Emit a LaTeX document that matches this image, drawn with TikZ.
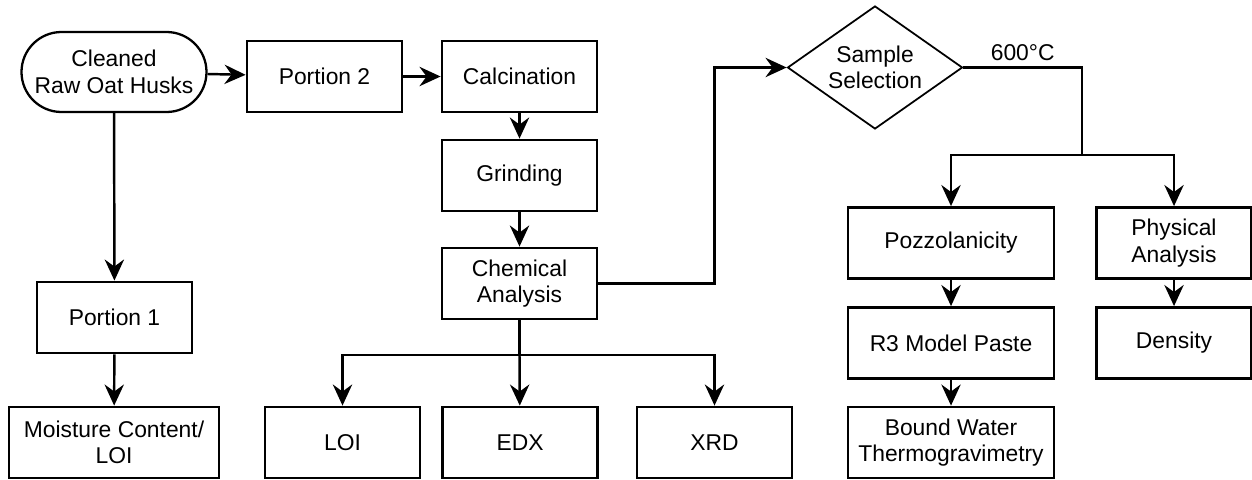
\documentclass[tikz,border=0pt]{standalone}
\usepackage{fontspec}
\setmainfont{Liberation Sans}
\usetikzlibrary{positioning, shapes.geometric, arrows.meta, calc}

\begin{document}
\begin{tikzpicture}[
    font=\fontsize{13}{15}\selectfont,
    % Styles
    box/.style={ % Process step
        rectangle,
        draw,
        line width=1.6pt,
        minimum width=3.1cm,
        minimum height=1.42cm,
        inner sep=2pt,
        align=center
    },
    widebox/.style={ % Wider process step
        box,
        minimum width=4.12cm
    },
    terminal/.style={ % Start node
        rectangle,
        rounded corners=8mm,
        draw,
        line width=1.3pt,
        minimum width=3.7cm,
        minimum height=1.6cm,
        align=center
    },
    decision/.style={ % Decision
        diamond,
        draw,
        line width=1pt,
        aspect=1.42,
        inner sep=0pt,
        minimum width=3.5cm,
        minimum height=2.46cm,
        align=center
    },
    line/.style={
        line width=1.4pt
    },
    arrow/.style={
        line,
        -{Stealth[length=12pt, width=11pt, inset=4pt]}
    }
]
    \useasboundingbox (0,0) rectangle (25.04,-9.58);

    % Raw material and first portion
    \node [terminal] (husks) at (2.28,-1.44) {Cleaned\\Raw Oat Husks};
    \node [box] (portion1) at (2.29,-6.35) {Portion 1};
    \node [box, minimum width=4.2cm] (moist) at (2.28,-8.85) {Moisture Content/\\LOI};

    % Second portion and ash preparation
    \node [box] (portion2) at (6.49,-1.53) {Portion 2};
    \node [box] (calc) at (10.39,-1.53) {Calcination};
    \node [box] (grind) at (10.39,-3.51) {Grinding};
    \node [box] (chem) at (10.39,-5.67) {Chemical\\Analysis};
    \node [box] (loi) at (6.85,-8.85) {LOI};
    \node [box] (edx) at (10.40,-8.85) {EDX};
    \node [box] (xrd) at (14.29,-8.85) {XRD};

    % Selected ash
    \node [decision] (sample) at (17.5,-1.35) {Sample\\Selection};
    \node [widebox] (pozz) at (19.02,-4.86) {Pozzolanicity};
    \node [widebox] (r3) at (19.02,-6.86) {R3 Model Paste};
    \node [widebox] (bound) at (19.02,-8.85) {Bound Water\\Thermogravimetry};
    \node [box] (phys) at (23.48,-4.86) {Physical\\Analysis};
    \node [box] (density) at (23.48,-6.86) {Density};

    % Branch points
    \coordinate (chemfork) at (10.39,-7.10);
    \coordinate (samplefork) at (21.64,-3.10);

    % Arrows
    \draw [arrow] (husks) -- (portion2);
    \draw [arrow] (portion2) -- (calc);
    \draw [arrow] (husks) -- (portion1);
    \draw [arrow] (portion1) -- (moist);
    \draw [arrow] (calc) -- (grind);
    \draw [arrow] (grind) -- (chem);
    \draw [arrow] (chem.east) -| (xrd |- sample.west) -- (sample.west);
    \draw [line] (chem) -- (chemfork);
    \draw [arrow] (chemfork) -| (loi);
    \draw [arrow] (chemfork) -- (edx);
    \draw [arrow] (chemfork) -| (xrd);
    \draw [line] (sample.east) -| node[pos=0.25, above=0pt] {600°C} (samplefork);
    \draw [arrow] (samplefork) -| (pozz);
    \draw [arrow] (samplefork) -| (phys);
    \draw [arrow] (pozz) -- (r3);
    \draw [arrow] (r3) -- (bound);
    \draw [arrow] (phys) -- (density);
\end{tikzpicture}
\end{document}
